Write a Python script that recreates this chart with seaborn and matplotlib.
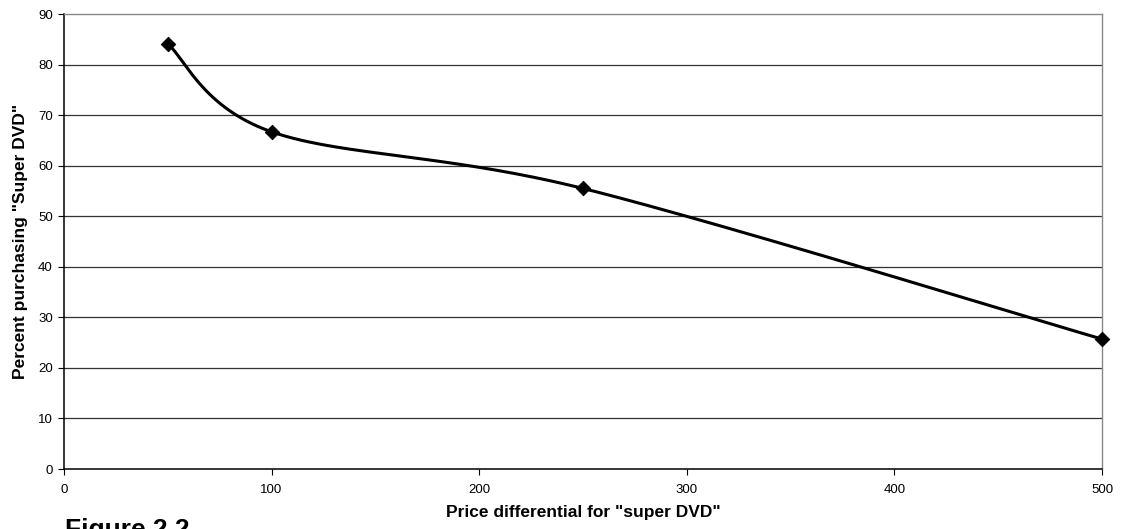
import numpy as np
import pandas as pd
import matplotlib
matplotlib.use('Agg')
import matplotlib.pyplot as plt
import seaborn as sns

# price differential vs percent buying
price_diff = [50, 100, 250, 500]
pct_buying = [84.1, 66.7, 55.5, 25.7]

sns.set_style('white')
plt.rcParams['font.family'] = ['Liberation Sans', 'DejaVu Sans']
plt.rcParams['text.color'] = 'black'
plt.rcParams['axes.labelcolor'] = 'black'
plt.rcParams['xtick.color'] = 'black'
plt.rcParams['ytick.color'] = 'black'

df = pd.DataFrame({'price': price_diff, 'pct': pct_buying})


# Excel-like smoothed line (Catmull-Rom bezier)
def smooth(x, y, n=60):
    x = np.asarray(x, float)
    y = np.asarray(y, float)
    px = np.concatenate([[x[0]], x, [x[-1]]])
    py = np.concatenate([[y[0]], y, [y[-1]]])
    xs, ys = [], []
    t = np.linspace(0, 1, n)
    for i in range(1, len(px) - 2):
        p0 = np.array([px[i], py[i]])
        p3 = np.array([px[i + 1], py[i + 1]])
        c1 = p0 + (np.array([px[i + 1], py[i + 1]]) - np.array([px[i - 1], py[i - 1]])) / 6
        c2 = p3 - (np.array([px[i + 2], py[i + 2]]) - np.array([px[i], py[i]])) / 6
        b = ((1 - t) ** 3)[:, None] * p0 + (3 * (1 - t) ** 2 * t)[:, None] * c1 \
            + (3 * (1 - t) * t ** 2)[:, None] * c2 + (t ** 3)[:, None] * p3
        xs.extend(b[:, 0])
        ys.extend(b[:, 1])
    return pd.DataFrame({'price': xs, 'pct': ys})


curve = smooth(price_diff, pct_buying)

fig = plt.figure(figsize=(11.26, 5.29), dpi=100)
ax = fig.add_axes([0.0568, 0.1134, 0.9219, 0.8601])

for v in range(10, 90, 10):
    ax.axhline(v, color='#333333', lw=0.9, zorder=0)

sns.lineplot(data=curve, x='price', y='pct', ax=ax, color='black', lw=2.2,
             sort=False, estimator=None)
sns.scatterplot(data=df, x='price', y='pct', ax=ax, marker='D', color='black',
                s=55, edgecolor='black', zorder=5, clip_on=False)

ax.set_xlim(0, 500)
ax.set_ylim(0, 90)
ax.set_xticks(range(0, 501, 100))
ax.set_yticks(range(0, 91, 10))
ax.tick_params(axis='both', labelsize=9.5, length=4, width=0.8, direction='out',
               bottom=True, left=True, color='black', labelcolor='black')
ax.tick_params(axis='x', pad=7)
ax.tick_params(axis='y', pad=4)
for s in ['left', 'bottom']:
    ax.spines[s].set_color('black')
    ax.spines[s].set_linewidth(1.1)
for s in ['top', 'right']:
    ax.spines[s].set_color('#888888')
    ax.spines[s].set_linewidth(1.0)

ax.set_xlabel('Price differential for "super DVD"', fontsize=12.5, fontweight='bold', labelpad=6)
ax.set_ylabel('Percent purchasing "Super DVD"', fontsize=12.5, fontweight='bold', labelpad=7)

fig.text(0.058, 0.021, 'Figure 2.2', fontsize=19, fontweight='bold', va='top', ha='left')

fig.savefig('out.png', dpi=100)
